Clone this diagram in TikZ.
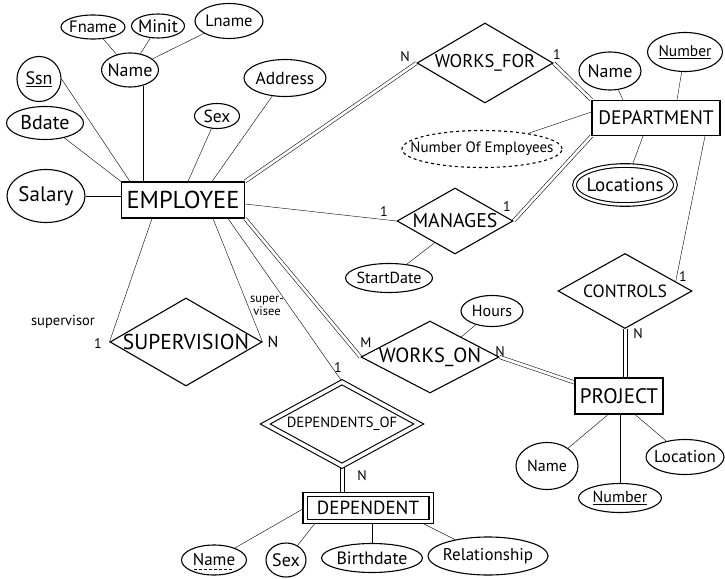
\documentclass[tikz,border=0pt]{standalone}
\usepackage{fontspec}
\setmainfont{PT Sans}
\usetikzlibrary{shapes.geometric,calc,backgrounds}
\newcommand{\Z}[1]{\makebox[0pt]{#1}}
\newcommand{\fs}[1]{\fontsize{#1}{#1}\selectfont}
% double connector between two named points: two parallel strokes
\newcommand{\dline}[2]{%
  \draw ($(#1)!1.7pt!90:(#2)$) -- ($(#2)!1.7pt!-90:(#1)$);
  \draw ($(#1)!1.7pt!-90:(#2)$) -- ($(#2)!1.7pt!90:(#1)$);}
\begin{document}
\begin{tikzpicture}[x=1pt,y=-1pt, line width=1.1pt,
 ent/.style={draw, rectangle, inner sep=0pt},
 rel/.style={draw, diamond, inner sep=0pt},
 att/.style={draw, ellipse, inner sep=0pt},
 dbl/.style={double, double distance=2pt},
 card/.style={inner sep=0pt, font=\fs{14}},
]
\useasboundingbox (0,0) rectangle (725,578);

% ---- EMPLOYEE and attributes
\node[ent, minimum width=123pt, minimum height=36pt, font=\fs{24.5}] (emp) at (183,200) {\Z{EMPLOYEE}};
\node[att, minimum width=64pt, minimum height=24pt, font=\fs{16.5}] (fname) at (93,27) {\Z{Fname}};
\node[att, minimum width=53pt, minimum height=24pt, font=\fs{18}] (minit) at (158,26) {\Z{Minit}};
\node[att, minimum width=68pt, minimum height=35pt, font=\fs{16.5}] (lname) at (229,21) {\Z{Lname}};
\node[att, minimum width=57pt, minimum height=34pt, font=\fs{18}] (name) at (130,70) {\Z{Name}};
\node[att, minimum width=44pt, minimum height=45pt, font=\fs{18}] (ssn) at (39,79) {\Z{\underline{Ssn}}};
\node[att, minimum width=77pt, minimum height=33pt, font=\fs{20}] (bdate) at (45,123) {\Z{Bdate}};
\node[att, minimum width=78pt, minimum height=53pt, font=\fs{21}] (salary) at (46,196) {\Z{Salary}};
\node[att, minimum width=45pt, minimum height=25pt, font=\fs{17.5}] (sex) at (217,116) {\Z{Sex}};
\node[att, minimum width=82pt, minimum height=37pt, font=\fs{17.5}] (address) at (285,78) {\Z{Address}};

% ---- WORKS_FOR / DEPARTMENT
\node[rel, minimum width=136pt, minimum height=80pt, font=\fs{18.5}] (worksfor) at (485,63) {\Z{WORKS\_FOR}};
\node[ent, minimum width=128pt, minimum height=35pt, font=\fs{19.5}] (dept) at (656,118) {\Z{DEPARTMENT}};
\node[att, minimum width=62pt, minimum height=38pt, font=\fs{18}] (dname) at (610,71) {\Z{Name}};
\node[att, minimum width=75pt, minimum height=39pt, font=\fs{15.5}] (dnumber) at (685,52) {\Z{\underline{Number}}};
\node[att, dashed, minimum width=160pt, minimum height=37pt, font=\fs{15}] (noe) at (482,149) {\Z{Number Of Employees}};
\node[att, dbl, double distance=2.5pt, minimum width=101pt, minimum height=39pt, font=\fs{19}] (loc) at (625,185) {\Z{Locations}};

% ---- MANAGES
\node[rel, minimum width=116pt, minimum height=66pt, font=\fs{19.8}] (manages) at (455,221) {\Z{MANAGES}};
\node[att, minimum width=87pt, minimum height=29pt, font=\fs{16}] (startdate) at (389,278) {\Z{StartDate}};

% ---- CONTROLS / WORKS_ON / PROJECT
\node[rel, minimum width=134pt, minimum height=75pt, font=\fs{17.7}] (controls) at (625,291) {\Z{CONTROLS}};
\node[rel, minimum width=138pt, minimum height=72pt, font=\fs{20.5}] (workson) at (430,357) {\Z{WORKS\_ON}};
\node[att, minimum width=62pt, minimum height=31pt, font=\fs{16}] (hours) at (492,311) {\Z{Hours}};
\node[ent, minimum width=88pt, minimum height=36pt, font=\fs{21}] (project) at (619,396) {\Z{PROJECT}};
\node[att, minimum width=62pt, minimum height=47pt, font=\fs{16}] (pname) at (547,466) {\Z{Name}};
\node[att, minimum width=83pt, minimum height=29pt, font=\fs{16}] (pnumber) at (620,498) {\Z{\underline{Number}}};
\node[att, minimum width=78pt, minimum height=35pt, font=\fs{17}] (ploc) at (685,457) {\Z{Location}};

% ---- SUPERVISION
\node[rel, minimum width=152pt, minimum height=88pt, font=\fs{21.5}] (supervision) at (186,342) {\Z{SUPERVISION}};

% ---- DEPENDENTS_OF / DEPENDENT
\node[rel, dbl, double distance=3.5pt, minimum width=154pt, minimum height=84pt, font=\fs{14.7}] (depof) at (342,424) {\Z{DEPENDENTS\_OF}};
\node[ent, dbl, double distance=3pt, minimum width=126pt, minimum height=27pt, font=\fs{19}] (dependent) at (368,508) {\Z{DEPENDENT}};
\node[att, minimum width=65pt, minimum height=30pt, font=\fs{17}] (depname) at (214,560) {\Z{Name}};
\node[att, minimum width=40pt, minimum height=34pt, font=\fs{18}] (depsex) at (286,560) {\Z{Sex}};
\node[att, minimum width=101pt, minimum height=29pt, font=\fs{17.8}] (birth) at (372,558) {\Z{Birthdate}};
\node[att, minimum width=120pt, minimum height=38pt, font=\fs{17}] (rel) at (488,556) {\Z{Relationship}};
\draw[dashed, line width=0.7pt, dash pattern=on 3pt off 2pt] ($(depname.center)+(-20,9)$) -- ($(depname.center)+(20,9)$);

% ---- cardinality and role labels
\node[card] (c1) at (405,57) {N};
\node[card] (c2) at (557,55) {1};
\node[card] (c3) at (384,212) {1};
\node[card] (c4) at (507,207) {1};
\node[card] (c5) at (683,277) {1};
\node[card] (c6) at (638,334) {N};
\node[card] (c7) at (366,343) {M};
\node[card] (c8) at (500,352) {N};
\node[card] (c9) at (338,368) {1};
\node[card] (c10) at (362,476) {N};
\node[card] (c11) at (98,344) {1};
\node[card, font=\fs{16}] (c12) at (273,342) {N};
\node[inner sep=0pt, font=\fs{14.5}] (supervisor) at (63,322) {supervisor};
\node[inner sep=0pt, font=\fs{12.5}, align=center] (supervisee) at (267,306) {super-\\visee};

% ---- connector end points
\coordinate (wfA) at (emp.north east);
\coordinate (wfB) at (worksfor.west);
\coordinate (wfC) at (worksfor.east);
\coordinate (wfD) at (dept.north west);
\coordinate (mgA) at (manages.east);
\coordinate (mgB) at (dept.south west);
\coordinate (woA) at (emp.south east);
\coordinate (woB) at (workson.west);
\coordinate (woC) at (workson.east);
\coordinate (woD) at ([yshift=-5pt]project.north west);
\coordinate (ctA) at (controls.south);
\coordinate (ctB) at (controls.south |- project.north);
\coordinate (dpA) at (depof.south);
\coordinate (dpB) at (depof.south |- dependent.north);

% ---- connectors
\begin{scope}[on background layer]
\draw (fname) -- (name);
\draw (minit) -- (name);
\draw (lname) -- (name);
\draw (name.-49) -- (name.-49 |- emp.north);
\draw (ssn.east) -- ([xshift=9pt]emp.north west);
\draw (bdate) -- (emp.north west);
\draw (salary) -- (emp.west |- salary);
\draw (sex) -- ([xshift=5pt]emp.north);
\draw (address) -- ([xshift=29pt]emp.north);

\dline{wfA}{wfB}
\dline{wfC}{wfD}
\draw (dname) -- ([xshift=-33pt]dept.north);
\draw (dnumber) -- ([xshift=21pt]dept.north);
\draw ([yshift=6pt]dept.west) -- (noe);
\draw ([xshift=-13pt]dept.south) -- (loc);
\draw ([xshift=49pt]dept.south) -- ($(controls.north)!0.75!(controls.east)$);

\draw ([yshift=-4pt]emp.east) -- (manages.west);
\dline{mgA}{mgB}
\draw (startdate) -- ($(manages.west)!0.65!(manages.south)$);

\dline{woA}{woB}
\draw (hours) -- ($(workson.north)!0.45!(workson.east)$);
\dline{woC}{woD}
\dline{ctA}{ctB}
\draw (pname) -- ([xshift=-11pt]project.south);
\draw (project.south -| pnumber) -- (pnumber.north);
\draw ([xshift=16pt]project.south) -- (ploc);

\draw ([xshift=-31pt]emp.south) -- (supervision.west);
\draw ([xshift=30pt]emp.south) -- (supervision.east);

\draw ([xshift=45pt]emp.south) -- (depof.north);
\dline{dpA}{dpB}
\draw (dependent.west) -- (depname);
\draw ([xshift=-52pt]dependent.south) -- (depsex);
\draw (dependent.south -| birth) -- (birth.north);
\draw ([xshift=52pt]dependent.south) -- (rel);
\end{scope}
\end{tikzpicture}
\end{document}
